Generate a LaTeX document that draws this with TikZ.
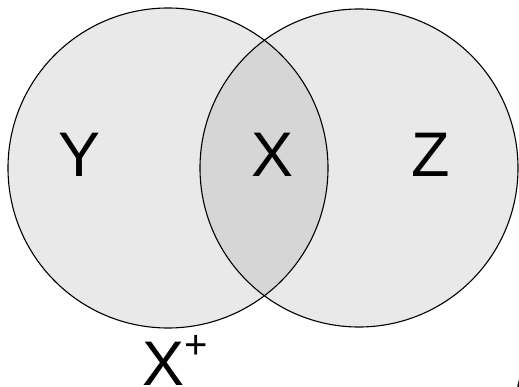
\documentclass[tikz,border=0pt]{standalone}
\usepackage{fontspec}
\setmainfont{Liberation Sans}
\begin{document}
\begin{tikzpicture}[x=1pt,y=-1pt,
  setcircle/.style={draw=black,line width=1.1pt},
  biglabel/.style={font=\fontsize{63}{63}\selectfont,inner sep=0pt}]
\useasboundingbox (0,0) rectangle (519,387);
\fill[gray!17] (168,168) circle (160);
\fill[gray!17] (359,168) circle (159);
\begin{scope}
  \clip (168,168) circle (160);
  \fill[gray!32] (359,168) circle (159);
\end{scope}
\draw[setcircle] (168,168) circle (160);
\draw[setcircle] (359,168) circle (159);
\node[biglabel,anchor=base] (y) at (80,177) {Y};
\node[biglabel,anchor=base] (x) at (273,177) {X};
\node[biglabel,anchor=base] (z) at (431,177) {Z};
\node[biglabel,anchor=base west] (xp) at (142,385) {X\raisebox{0.42em}{\fontsize{40}{40}\selectfont+}};
\node[biglabel,anchor=base west] (c) at (514,412) {C};
\end{tikzpicture}
\end{document}
